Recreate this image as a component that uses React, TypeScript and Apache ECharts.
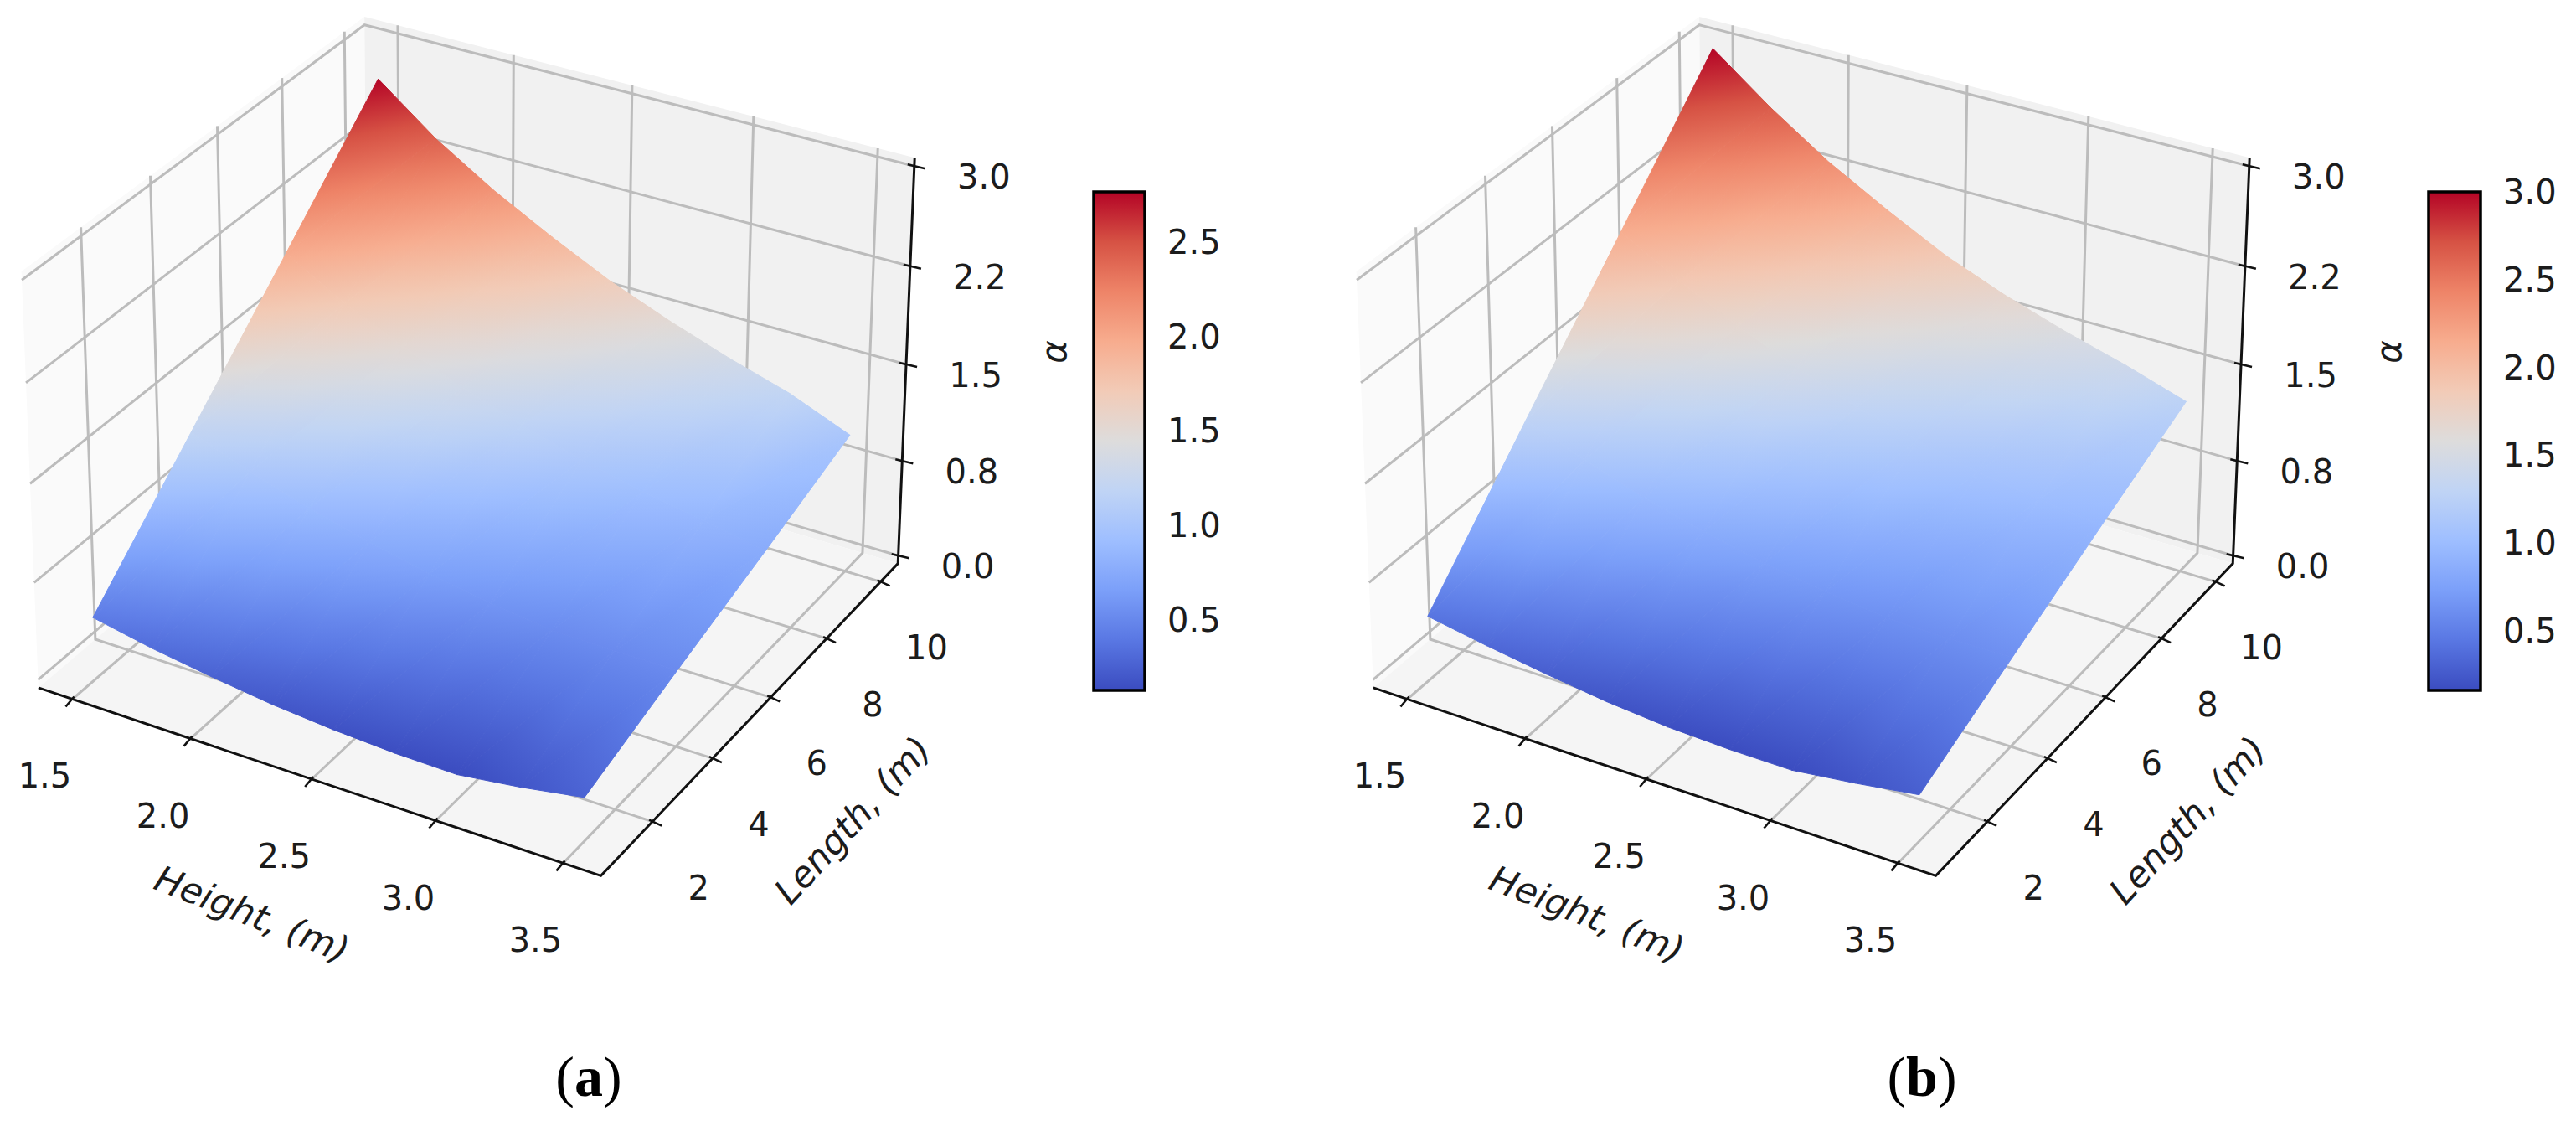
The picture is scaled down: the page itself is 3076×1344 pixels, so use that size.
import React, { useEffect, useRef } from "react";
import * as echarts from "echarts";

const heights = [1.5, 1.75, 2, 2.25, 2.5, 2.75, 3, 3.25, 3.5];
const lengths = [1, 4, 7, 10];
// alpha[height index][length index]
const alphaA = [
  [0.42, 1.2, 1.98, 2.765],
  [0.33, 1.03, 1.72, 2.42],
  [0.26, 0.89, 1.51, 2.14],
  [0.2, 0.77, 1.33, 1.9],
  [0.16, 0.67, 1.17, 1.68],
  [0.135, 0.59, 1.04, 1.5],
  [0.128, 0.53, 0.93, 1.34],
  [0.19, 0.52, 0.85, 1.2],
  [0.27, 0.52, 0.76, 1.01],
];
const alphaB = [
  [0.43, 1.29, 2.14, 3.0],
  [0.35, 1.12, 1.89, 2.66],
  [0.28, 0.97, 1.67, 2.36],
  [0.22, 0.85, 1.48, 2.11],
  [0.18, 0.75, 1.31, 1.88],
  [0.163, 0.68, 1.19, 1.7],
  [0.161, 0.62, 1.08, 1.55],
  [0.22, 0.61, 1.01, 1.42],
  [0.29, 0.62, 0.95, 1.27],
];
const heightTicks = [1.5, 2, 2.5, 3, 3.5];
const lengthTicks = [2, 4, 6, 8, 10];
const alphaTicks = [0, 0.75, 1.5, 2.25, 3];
const alphaTickLabels = ["0.0", "0.8", "1.5", "2.2", "3.0"];
const colorbarTicksA = [0.5, 1, 1.5, 2, 2.5];
const colorbarTicksB = [0.5, 1, 1.5, 2, 2.5, 3];
const colorRangeA = [0.128, 2.765];
const colorRangeB = [0.161, 3.0];
const coolwarm = ["#3b4cc0", "#5977e3", "#7b9ff9", "#9ebeff", "#c0d4f5", "#dddcdc", "#f2cbb7", "#f7ac8e", "#ee8468", "#d65244", "#b40426"];

// Axis limits of the 3D box (pane bounds)
const H0 = 1.354, H1 = 3.646, L0 = 0.344, L1 = 10.656, Z0 = -0.0625, Z1 = 3.0625;

// Camera calibration: box corner (u,v,w) -> pixel of the left panel
const cameraAnchors = [
  [0, 0, 0, 47, 825],
  [1, 0, 0, 717, 1043],
  [1, 1, 0, 1072, 676],
  [0, 1, 0, 439, 481],
  [0, 0, 1, 25, 322],
  [1, 1, 1, 1093, 187],
  [0, 1, 1, 435, 23],
];
const PANEL_B_SHIFT = 1594;

function solveCamera() {
  const rows: number[][] = [];
  const rhs: number[] = [];
  for (const [u, v, w, x0, y0] of cameraAnchors) {
    const x = x0 / 1000, y = y0 / 1000;
    rows.push([u, v, w, 1, 0, 0, 0, 0, -x * u, -x * v, -x * w]); rhs.push(x);
    rows.push([0, 0, 0, 0, u, v, w, 1, -y * u, -y * v, -y * w]); rhs.push(y);
  }
  const n = 11;
  const m: number[][] = [];
  for (let i = 0; i < n; i++) {
    m.push(new Array(n + 1).fill(0));
    for (let j = 0; j < n; j++) rows.forEach((r) => (m[i][j] += r[i] * r[j]));
    rows.forEach((r, k) => (m[i][n] += r[i] * rhs[k]));
  }
  for (let c = 0; c < n; c++) {
    let piv = c;
    for (let r = c + 1; r < n; r++) if (Math.abs(m[r][c]) > Math.abs(m[piv][c])) piv = r;
    [m[c], m[piv]] = [m[piv], m[c]];
    for (let r = 0; r < n; r++) {
      if (r === c) continue;
      const f = m[r][c] / m[c][c];
      for (let k = c; k <= n; k++) m[r][k] -= f * m[c][k];
    }
  }
  return m.map((r, i) => r[n] / r[i]);
}
const cam = solveCamera();

function project(h: number, l: number, z: number, dx: number): [number, number] {
  const u = (h - H0) / (H1 - H0), v = (l - L0) / (L1 - L0), w = (z - Z0) / (Z1 - Z0);
  const d = cam[8] * u + cam[9] * v + cam[10] * w + 1;
  return [
    (1000 * (cam[0] * u + cam[1] * v + cam[2] * w + cam[3])) / d + dx,
    (1000 * (cam[4] * u + cam[5] * v + cam[6] * w + cam[7])) / d,
  ];
}

function colorAt(t: number) {
  const c = Math.max(0, Math.min(1, t)) * (coolwarm.length - 1);
  const i = Math.min(coolwarm.length - 2, Math.floor(c));
  const f = c - i;
  const p = (s: string, k: number) => parseInt(s.substr(1 + 2 * k, 2), 16);
  const ch = (k: number) => Math.round(p(coolwarm[i], k) * (1 - f) + p(coolwarm[i + 1], k) * f);
  return `rgb(${ch(0)},${ch(1)},${ch(2)})`;
}

type Tri = { pts: number[][]; z: number[] };

function triangles(table: number[][], dx: number): Tri[] {
  const out: Tri[] = [];
  for (let i = 0; i < heights.length - 1; i++) {
    for (let j = 0; j < lengths.length - 1; j++) {
      const P = (a: number, b: number) => project(heights[a], lengths[b], table[a][b], dx);
      out.push({ pts: [P(i, j), P(i + 1, j), P(i + 1, j + 1)], z: [table[i][j], table[i + 1][j], table[i + 1][j + 1]] });
      out.push({ pts: [P(i, j), P(i + 1, j + 1), P(i, j + 1)], z: [table[i][j], table[i + 1][j + 1], table[i][j + 1]] });
    }
  }
  return out;
}

function triFill(t: Tri, range: number[]) {
  const [p1, p2, p3] = t.pts;
  const [z1, z2, z3] = t.z;
  const a1 = p2[0] - p1[0], b1 = p2[1] - p1[1], a2 = p3[0] - p1[0], b2 = p3[1] - p1[1];
  const det = a1 * b2 - a2 * b1;
  const gx = ((z2 - z1) * b2 - (z3 - z1) * b1) / det;
  const gy = (a1 * (z3 - z1) - a2 * (z2 - z1)) / det;
  const g2 = gx * gx + gy * gy;
  const zmin = Math.min(z1, z2, z3), zmax = Math.max(z1, z2, z3);
  const norm = (z: number) => (z - range[0]) / (range[1] - range[0]);
  if (!(g2 > 1e-12) || zmax - zmin < 1e-6) return colorAt(norm(z1));
  const lo = t.pts[t.z.indexOf(zmin)];
  const s = (zmax - zmin) / g2;
  const stops = [];
  for (let k = 0; k <= 6; k++) stops.push({ offset: k / 6, color: colorAt(norm(zmin + ((zmax - zmin) * k) / 6)) });
  return new echarts.graphic.LinearGradient(lo[0], lo[1], lo[0] + gx * s, lo[1] + gy * s, stops, true);
}

const GRID = "#bcbcbc";
type Shape = { kind: "poly" | "line"; pts: number[][]; color: string; w?: number };

function boxShapes(dx: number): Shape[] {
  const P = (h: number, l: number, z: number) => project(h, l, z, dx);
  const s: Shape[] = [];
  s.push({ kind: "poly", color: "#fafafa", pts: [P(H0, L0, Z0), P(H0, L0, Z1), P(H0, L1, Z1), P(H0, L1, Z0)] });
  s.push({ kind: "poly", color: "#f1f1f1", pts: [P(H1, L1, Z0), P(H1, L1, Z1), P(H0, L1, Z1), P(H0, L1, Z0)] });
  s.push({ kind: "poly", color: "#f5f5f5", pts: [P(H0, L0, Z0), P(H1, L0, Z0), P(H1, L1, Z0), P(H0, L1, Z0)] });
  heightTicks.forEach((h) => s.push({ kind: "line", color: GRID, w: 3, pts: [P(h, L0, Z0), P(h, L1, Z0), P(h, L1, Z1)] }));
  lengthTicks.forEach((l) => s.push({ kind: "line", color: GRID, w: 3, pts: [P(H1, l, Z0), P(H0, l, Z0), P(H0, l, Z1)] }));
  alphaTicks.forEach((z) => s.push({ kind: "line", color: GRID, w: 3, pts: [P(H0, L0, z), P(H0, L1, z), P(H1, L1, z)] }));
  s.push({ kind: "line", color: "#111", w: 3, pts: [P(H0, L0, Z0), P(H1, L0, Z0), P(H1, L1, Z0), P(H1, L1, Z1)] });
  const tick = (p: number[], ox: number, oy: number, ix: number, iy: number) =>
    s.push({ kind: "line", color: "#111", w: 2.6, pts: [[p[0] + ix, p[1] + iy], [p[0] + ox, p[1] + oy]] });
  heightTicks.forEach((h) => tick(P(h, L0, Z0), -8, 9, 2, -3));
  lengthTicks.forEach((l) => tick(P(H1, l, Z0), 11, 5, -4, -2));
  alphaTicks.forEach((z) => tick(P(H1, L1, z), 13, 3, -8, -2));
  return s;
}

const TICK_FONT = 40;
function text(txt: string, x: number, y: number, extra: any = {}, rotation = 0) {
  return {
    type: "text", x, y, rotation, silent: true,
    style: { text: txt, align: "center", verticalAlign: "middle", fontFamily: "DejaVu Sans", fontSize: TICK_FONT, fill: "#1c1c1c", ...extra },
  };
}

function panelTexts(dx: number, caption: string, alphaX: number) {
  const out: any[] = [];
  heightTicks.forEach((h) => {
    const p = project(h, L0, Z0, dx);
    out.push(text(h.toFixed(1), p[0] - 33, p[1] + 92));
  });
  lengthTicks.forEach((l) => {
    const p = project(H1, l, Z0, dx);
    out.push(text(String(l), p[0] + 55, p[1] + 79));
  });
  alphaTicks.forEach((z, i) => {
    const p = project(H1, L1, z, dx);
    out.push(text(alphaTickLabels[i], p[0] + 83, p[1] + 13));
  });
  out.push(text("Height, (m)", 301 + dx, 1091, { fontStyle: "italic", fontSize: 43 }, -0.375));
  out.push(text("Length, (m)", 1018 + dx, 979, { fontStyle: "italic", fontSize: 43 }, 0.83));
  out.push(text("α", alphaX, 420, { fontStyle: "italic", fontSize: 42 }, Math.PI / 2));
  out.push({
    type: "text", x: caption === "a" ? 703 : 2295, y: 1285, silent: true,
    style: {
      text: `{r|(}{b|${caption}}{r|)}`, align: "center", verticalAlign: "middle", fill: "#000",
      rich: {
        r: { fontFamily: "Liberation Serif", fontSize: 68, fill: "#000" },
        b: { fontFamily: "Liberation Serif", fontSize: 68, fontWeight: "bold", fill: "#000" },
      },
    },
  });
  return out;
}

function surfaceSeries(table: number[][], dx: number, range: number[]) {
  const tris = triangles(table, dx);
  const fills = tris.map((t) => triFill(t, range));
  return {
    type: "custom", coordinateSystem: "none", silent: true, clip: false,
    data: tris.map((_, i) => i),
    renderItem: (params: any) => {
      const i = params.dataIndex;
      return { type: "polygon", shape: { points: tris[i].pts }, style: { fill: fills[i], stroke: fills[i], lineWidth: 1, lineJoin: "round" } };
    },
  };
}

function boxSeries(dx: number) {
  const shapes = boxShapes(dx);
  return {
    type: "custom", coordinateSystem: "none", silent: true, clip: false,
    data: shapes.map((_, i) => i),
    renderItem: (params: any) => {
      const s = shapes[params.dataIndex];
      return s.kind === "poly"
        ? { type: "polygon", shape: { points: s.pts }, style: { fill: s.color } }
        : { type: "polyline", shape: { points: s.pts }, style: { fill: "none", stroke: s.color, lineWidth: s.w, lineJoin: "miter" } };
    },
  };
}

function colorbarSeries(gridIndex: number, range: number[]) {
  return {
    type: "custom", coordinateSystem: "cartesian2d", xAxisIndex: gridIndex, yAxisIndex: gridIndex, silent: true,
    data: [[0, range[0], 1, range[1]]],
    renderItem: (_: any, api: any) => {
      const a = api.coord([api.value(0), api.value(3)]);
      const b = api.coord([api.value(2), api.value(1)]);
      const n = coolwarm.length - 1;
      const stops = coolwarm.map((_c, i) => ({ offset: i / n, color: coolwarm[n - i] }));
      return {
        type: "rect", shape: { x: a[0], y: a[1], width: b[0] - a[0], height: b[1] - a[1] },
        style: { fill: new echarts.graphic.LinearGradient(0, 0, 0, 1, stops), stroke: "#000", lineWidth: 3.5 },
      };
    },
  };
}

function colorbarAxis(gridIndex: number, range: number[], ticks: number[]) {
  return {
    gridIndex, type: "value", position: "right", min: range[0], max: range[1], splitLine: { show: false },
    axisLine: { show: false },
    axisTick: { show: true, customValues: ticks, length: 16, lineStyle: { color: "#000", width: 2.8 } },
    axisLabel: {
      show: true, customValues: ticks, margin: 27, fontFamily: "DejaVu Sans", fontSize: TICK_FONT, color: "#1c1c1c",
      formatter: (v: number) => v.toFixed(1),
    },
  };
}

export default function App() {
  const ref = useRef<HTMLDivElement>(null);
  useEffect(() => {
    document.body.style.margin = "0";
    const chart = echarts.init(ref.current!, undefined, { renderer: "svg" });
    chart.setOption({
      animation: false,
      backgroundColor: "#fff",
      grid: [
        { left: 1306, top: 229, width: 61, height: 595, containLabel: false },
        { left: 2900, top: 229, width: 62, height: 595, containLabel: false },
      ],
      xAxis: [
        { gridIndex: 0, type: "value", min: 0, max: 1, show: false },
        { gridIndex: 1, type: "value", min: 0, max: 1, show: false },
      ],
      yAxis: [colorbarAxis(0, colorRangeA, colorbarTicksA), colorbarAxis(1, colorRangeB, colorbarTicksB)],
      series: [
        boxSeries(0),
        surfaceSeries(alphaA, 0, colorRangeA),
        boxSeries(PANEL_B_SHIFT),
        surfaceSeries(alphaB, PANEL_B_SHIFT, colorRangeB),
        colorbarSeries(0, colorRangeA),
        colorbarSeries(1, colorRangeB),
      ],
      graphic: { elements: [...panelTexts(0, "a", 1258), ...panelTexts(PANEL_B_SHIFT, "b", 2852)] },
    });
    return () => chart.dispose();
  }, []);
  return <div ref={ref} style={{ position: "absolute", left: 0, top: 0, width: 3076, height: 1344 }} />;
}
